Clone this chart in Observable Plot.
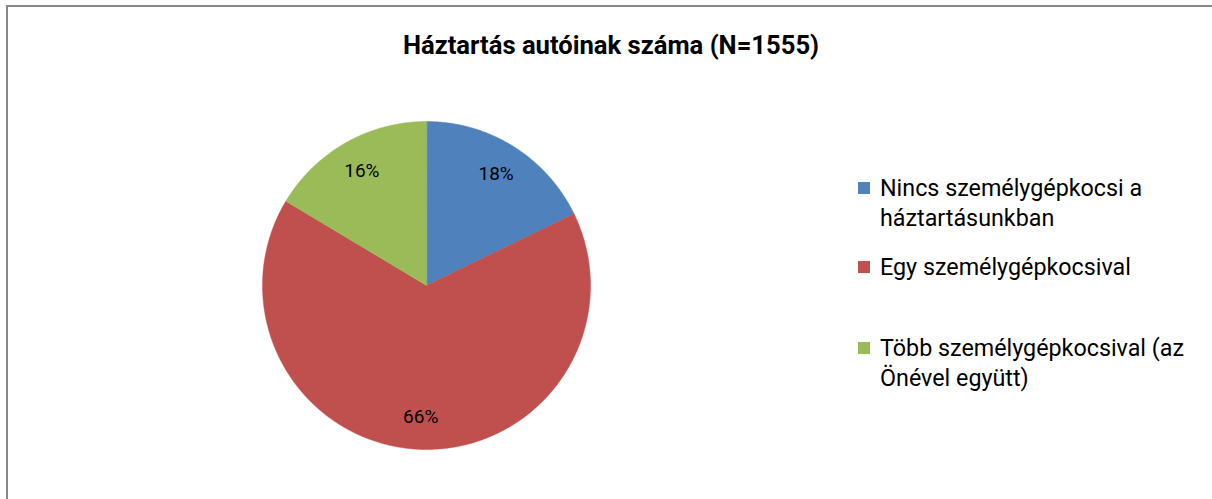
<!DOCTYPE html>
<html>
<head>
<meta charset="utf-8">
<script src="https://cdn.jsdelivr.net/npm/d3@7"></script>
<script src="https://cdn.jsdelivr.net/npm/@observablehq/plot@0.6"></script>
<style>
  html, body { margin: 0; padding: 0; background: #fff; }
  body { width: 1212px; height: 499px; position: relative; overflow: hidden; font-family: Roboto, "Liberation Sans", sans-serif; }
  #frame { position: absolute; left: 6px; top: 5px; width: 1220px; height: 510px; border-left: 2px solid #888; border-top: 2px solid #888; box-sizing: border-box; }
  #title { position: absolute; left: 0; width: 1222px; top: 30px; text-align: center; font-weight: bold; font-size: 25.6px; color: #000; line-height: 30px; }
  #chart { position: absolute; left: 226px; top: 85px; }
  .leg { position: absolute; left: 880px; font-size: 23.3px; line-height: 30px; color: #000; white-space: nowrap; }
  .sw { position: absolute; left: 858px; width: 12px; height: 12px; }
</style>
</head>
<body>
<div id="frame"></div>
<div id="title"></div>
<div id="chart"></div>
<div id="legend"></div>
<script>
const title = "Háztartás autóinak száma (N=1555)";
const categories = ["Nincs személygépkocsi a háztartásunkban", "Egy személygépkocsival", "Több személygépkocsival (az Önével együtt)"];
const legendLines = [["Nincs személygépkocsi a", "háztartásunkban"], ["Egy személygépkocsival"], ["Több személygépkocsival (az", "Önével együtt)"]];
const values = [17.8, 65.8, 16.4];
const labels = ["18%", "66%", "16%"];
const colors = ["#4F81BD", "#C0504D", "#9BBB59"];

document.getElementById("title").textContent = title;

// slice geometry from the values (angles clockwise from 12 o'clock)
const pie = d3.pie().sort(null).value(d => d)(values);
const polys = [];
pie.forEach((p, i) => {
  polys.push({cat: categories[i], x: 0, y: 0});
  const n = Math.max(2, Math.ceil((p.endAngle - p.startAngle) / 0.005));
  for (let k = 0; k <= n; k++) {
    const a = p.startAngle + (p.endAngle - p.startAngle) * k / n;
    polys.push({cat: categories[i], x: Math.sin(a), y: Math.cos(a)});
  }
});
const labelData = pie.map((p, i) => {
  const a = (p.startAngle + p.endAngle) / 2;
  return {label: labels[i], x: 0.8 * Math.sin(a), y: 0.8 * Math.cos(a)};
});

const chart = Plot.plot({
  width: 400, height: 400,
  marginTop: 36, marginBottom: 36, marginLeft: 36, marginRight: 36,
  x: {domain: [-1, 1], axis: null},
  y: {domain: [-1, 1], axis: null},
  color: {domain: categories, range: colors},
  style: {background: "transparent", fontFamily: "Roboto, 'Liberation Sans', sans-serif"},
  marks: [
    Plot.line(polys, {x: "x", y: "y", z: "cat", fill: "cat", stroke: "cat", strokeWidth: 0.5, curve: "linear-closed"}),
    Plot.text(labelData, {x: "x", y: "y", text: "label", fontSize: 19, fill: "#000"})
  ]
});
document.getElementById("chart").appendChild(chart);

// legend
const legTops = [188, 267, 348];
const leg = document.getElementById("legend");
legendLines.forEach((lines, i) => {
  const sw = document.createElement("div");
  sw.className = "sw";
  sw.style.top = (legTops[i] - 6) + "px";
  sw.style.background = colors[i];
  leg.appendChild(sw);
  const t = document.createElement("div");
  t.className = "leg";
  t.style.top = (legTops[i] - 15) + "px";
  t.innerHTML = lines.join("<br>");
  leg.appendChild(t);
});
</script>
</body>
</html>
